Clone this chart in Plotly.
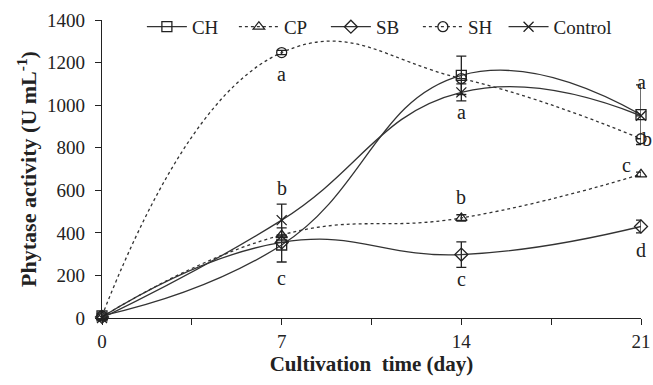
import plotly.graph_objects as go

days = [0, 7, 14, 21]
series_names = ["CH", "CP", "SB", "SH", "Control"]
ch = [10, 343, 1140, 955]
cp = [5, 390, 470, 675]
sb = [5, 355, 298, 430]
sh = [10, 1247, 1125, 842]
control = [0, 460, 1060, 950]
ch_err = [0, 80, 90, 140]
cp_err = [0, 0, 15, 10]
sb_err = [0, 0, 60, 30]
sh_err = [0, 10, 0, 0]
control_err = [0, 75, 40, 0]

values = [ch, cp, sb, sh, control]
errors = [ch_err, cp_err, sb_err, sh_err, control_err]
dashes = ["solid", "dot", "solid", "dot", "solid"]
symbols = ["square-open", "triangle-up-open", "diamond-open", "circle-open", "x-thin-open"]
legend_ids = ["legend", "legend", "legend", "legend", "legend2"]

# significance letters: (day index, series index, letter, xshift, yshift)
letters = [
    (1, 3, "a", 0, -21), (1, 4, "b", 0, 32), (1, 0, "c", 0, -33),
    (2, 4, "a", 0, -20), (2, 1, "b", 0, 21), (2, 2, "c", 0, -24),
    (3, 0, "a", 0, 33), (3, 3, "b", 6, 0), (3, 1, "c", -15, 9), (3, 2, "d", 0, -24),
]

font = "Liberation Serif"
fig = go.Figure()
for name, v, e, d, s, lg in zip(series_names, values, errors, dashes, symbols, legend_ids):
    fig.add_trace(go.Scatter(
        x=days, y=v, name=name, mode="lines+markers", legend=lg,
        line=dict(color="#333333", width=1.3, dash=d, shape="spline", smoothing=1.3),
        marker=dict(symbol=s, size=10, color="#222222",
                    line=dict(color="#222222", width=1.3)),
        error_y=dict(type="data", array=e, visible=True, color="#222222",
                     thickness=1.3, width=5),
        cliponaxis=False,
    ))

for di, si, t, xs, ys in letters:
    fig.add_annotation(x=days[di], y=values[si][di], text=t, showarrow=False,
                       xshift=xs, yshift=ys, font=dict(family=font, size=20, color="#222222"))

legend_common = dict(orientation="h", y=0.977, xanchor="left", yanchor="middle",
                     bgcolor="rgba(0,0,0,0)", font=dict(size=19), itemwidth=40)

fig.update_layout(
    width=653, height=385,
    margin=dict(l=102, r=12, t=20, b=67, autoexpand=False),
    paper_bgcolor="white", plot_bgcolor="white",
    font=dict(family=font, size=19, color="#222222"),
    showlegend=True,
    legend=dict(x=0.074, entrywidth=37, entrywidthmode="pixels", **legend_common),
    legend2=dict(x=0.745, **legend_common),
    xaxis=dict(range=[0, 21], tickvals=[0, 7, 14, 21],
               ticks="outside", ticklen=6, tickcolor="#222222",
               minor=dict(dtick=3.5, tick0=0, ticks="outside", ticklen=6, tickcolor="#222222"),
               showline=True, linecolor="#222222", linewidth=1.3,
               showgrid=False, zeroline=False,
               title=dict(text="<b>Cultivation  time (day)</b>", standoff=4,
                          font=dict(size=21))),
    yaxis=dict(range=[0, 1400], tickvals=list(range(0, 1401, 200)),
               ticks="outside", ticklen=6, tickcolor="#222222", ticklabelstandoff=6,
               showline=True, linecolor="#222222", linewidth=1.3,
               showgrid=False, zeroline=False,
               title=dict(text="<b>Phytase activity (U mL<sup>-1</sup>)</b>", standoff=4,
                          font=dict(size=22))),
)

fig.write_html("out.html")
